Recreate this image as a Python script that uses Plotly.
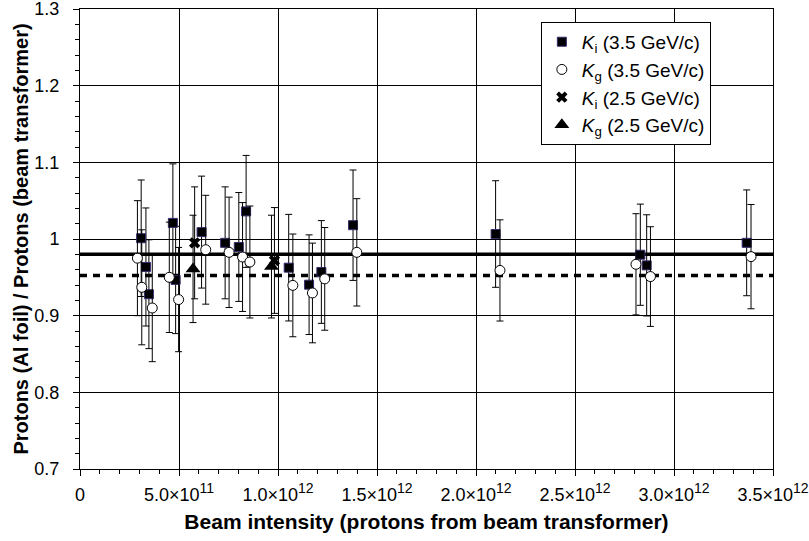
import plotly.graph_objects as go

# K_i (3.5 GeV/c)
ki35_x = [3.09e11, 3.33e11, 3.48e11, 4.69e11, 4.83e11, 6.14e11, 7.33e11, 8.02e11, 8.39e11,
          1.054e12, 1.157e12, 1.219e12, 1.379e12, 2.099e12, 2.830e12, 2.862e12, 3.367e12]
ki35_y = [1.001, 0.9635, 0.928, 1.021, 0.9466, 1.009, 0.995, 0.9896, 1.036,
          0.9626, 0.9404, 0.957, 1.018, 1.0065, 0.9795, 0.9656, 0.995]
ki35_e = [0.076, 0.077, 0.071, 0.077, 0.070, 0.073, 0.073, 0.071, 0.073,
          0.0695, 0.065, 0.067, 0.072, 0.0695, 0.066, 0.066, 0.069]

# K_g (3.5 GeV/c)
kg35_x = [2.90e11, 3.12e11, 3.65e11, 4.51e11, 4.98e11, 6.35e11, 7.53e11, 8.21e11, 8.58e11,
          1.075e12, 1.174e12, 1.236e12, 1.398e12, 2.121e12, 2.808e12, 2.881e12, 3.389e12]
kg35_y = [0.975, 0.937, 0.910, 0.950, 0.921, 0.986, 0.9826, 0.9765, 0.970,
          0.9395, 0.9296, 0.948, 0.9826, 0.959, 0.967, 0.951, 0.977]
kg35_e = [0.075, 0.075, 0.070, 0.072, 0.068, 0.071, 0.072, 0.071, 0.073,
          0.067, 0.065, 0.067, 0.070, 0.066, 0.066, 0.065, 0.068]

# K_i (2.5 GeV/c)
ki25_x = [5.79e11, 9.82e11]
ki25_y = [0.995, 0.972]
ki25_e = [0.073, 0.069]

# K_g (2.5 GeV/c)
kg25_x = [5.71e11, 9.67e11]
kg25_y = [0.961, 0.964]
kg25_e = [0.070, 0.067]

# average lines
line_x = [0, 3.5e12]
ki_mean = 0.980
kg_mean = 0.9525

x_mant = ["0", "5.0", "1.0", "1.5", "2.0", "2.5", "3.0", "3.5"]
x_exp = [None, 11, 12, 12, 12, 12, 12, 12]
x_tickvals = [0, 5e11, 1e12, 1.5e12, 2e12, 2.5e12, 3e12, 3.5e12]

def tick_label(m, e):
    if e is None:
        return m
    return "%s×10<sup><span style='font-size:14px'>%d</span></sup>" % (m, e)

x_ticktext = [tick_label(m, e) for m, e in zip(x_mant, x_exp)]
y_tickvals = [0.7, 0.8, 0.9, 1.0, 1.1, 1.2, 1.3]
y_ticktext = ["0.7", "0.8", "0.9", "1", "1.1", "1.2", "1.3"]

FONT = "Liberation Sans, Arial, sans-serif"

def eb(e):
    return dict(type="data", array=e, visible=True, color="black", thickness=1, width=3.5)

fig = go.Figure()

fig.add_trace(go.Scatter(x=line_x, y=[ki_mean, ki_mean], mode="lines",
                         line=dict(color="black", width=3.5), showlegend=False, hoverinfo="skip"))
fig.add_trace(go.Scatter(x=line_x, y=[kg_mean, kg_mean], mode="lines",
                         line=dict(color="black", width=3.5, dash="7px,6px"), showlegend=False, hoverinfo="skip"))

fig.add_trace(go.Scatter(x=ki35_x, y=ki35_y, error_y=eb(ki35_e), mode="markers",
                         name="<i>K</i><sub>i</sub> (3.5 GeV/c)",
                         marker=dict(symbol="square", size=9, color="black",
                                     line=dict(color="#3a2a70", width=1))))
fig.add_trace(go.Scatter(x=kg35_x, y=kg35_y, error_y=eb(kg35_e), mode="markers",
                         name="<i>K</i><sub>g</sub> (3.5 GeV/c)",
                         marker=dict(symbol="circle", size=10, color="white",
                                     line=dict(color="black", width=1))))
fig.add_trace(go.Scatter(x=ki25_x, y=ki25_y, error_y=eb(ki25_e), mode="markers",
                         name="<i>K</i><sub>i</sub> (2.5 GeV/c)",
                         marker=dict(symbol="x", size=10, color="black",
                                     line=dict(color="black", width=0))))
fig.add_trace(go.Scatter(x=kg25_x, y=kg25_y, error_y=eb(kg25_e), mode="markers",
                         name="<i>K</i><sub>g</sub> (2.5 GeV/c)",
                         marker=dict(symbol="triangle-up", size=13, color="black",
                                     line=dict(color="black", width=0))))

fig.update_layout(
    width=809, height=541,
    margin=dict(l=80, r=36, t=9, b=72),
    paper_bgcolor="white", plot_bgcolor="white",
    font=dict(family=FONT, size=18, color="black"),
    legend=dict(x=0.665, y=0.972, xanchor="left", yanchor="top",
                bgcolor="white", bordercolor="black", borderwidth=1,
                font=dict(family=FONT, size=19, color="black"),
                tracegroupgap=0),
    xaxis=dict(range=[0, 3.5e12], tickmode="array", tickvals=x_tickvals, ticktext=x_ticktext,
               automargin=False, ticklabeloverflow="allow",
               showgrid=True, gridcolor="black", gridwidth=1,
               showline=True, linecolor="black", linewidth=1, mirror=True,
               ticks="outside", ticklen=6, tickcolor="black", zeroline=False,
               tickfont=dict(size=18), ticklabelstandoff=3,
               minor=dict(tick0=0, dtick=1e11, ticks="outside", ticklen=4, tickcolor="black", showgrid=False),
               title=dict(text="<b>Beam intensity (protons from beam transformer)</b>",
                          font=dict(size=21), standoff=10)),
    yaxis=dict(range=[0.7, 1.3], tickmode="array", tickvals=y_tickvals, ticktext=y_ticktext,
               automargin=False, ticklabeloverflow="allow",
               showgrid=True, gridcolor="black", gridwidth=1,
               showline=True, linecolor="black", linewidth=1, mirror=True,
               ticks="outside", ticklen=6, tickcolor="black", zeroline=False,
               tickfont=dict(size=18), ticklabelstandoff=10,
               minor=dict(tick0=0.7, dtick=0.02, ticks="outside", ticklen=4, tickcolor="black", showgrid=False),
               title=dict(text="<b>Protons (Al foil) / Protons (beam transformer)</b>",
                          font=dict(size=20), standoff=0)),
)

fig.write_html("out.html", config={"displayModeBar": False},
               post_script="document.body.style.margin='0px';")
